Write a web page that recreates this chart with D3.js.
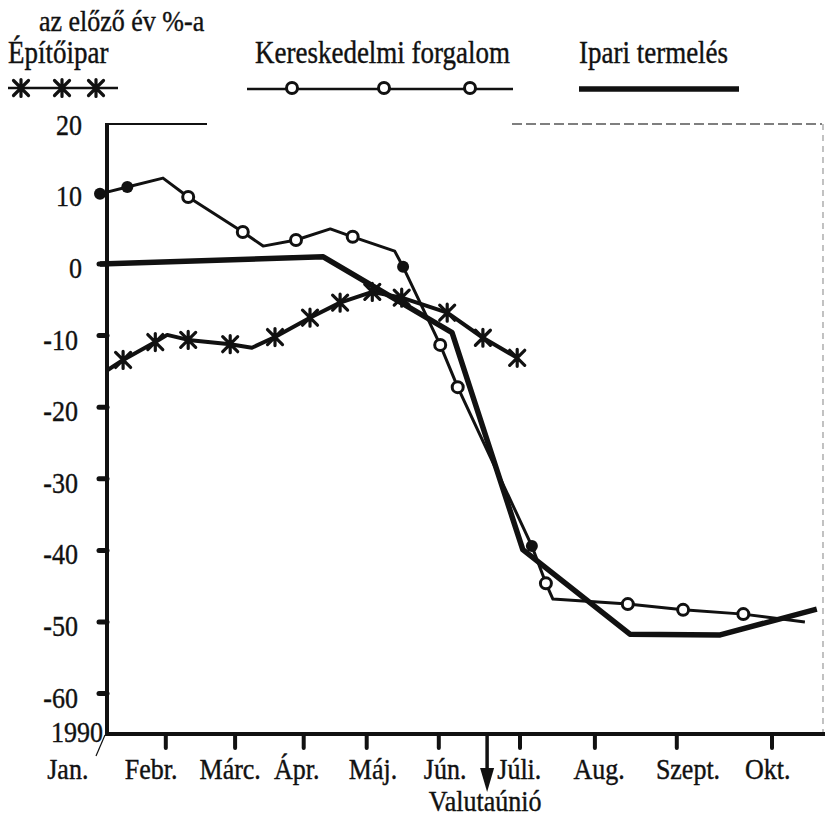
<!DOCTYPE html>
<html><head><meta charset="utf-8">
<script src="https://cdn.jsdelivr.net/npm/d3@7"></script>
<style>
body{margin:0;background:#fff}
text{font-family:"Liberation Serif","Times New Roman",serif;fill:#111;stroke:#111;stroke-width:0.35px}
</style>
</head><body><svg id="c" width="825" height="817"></svg>
<script>
// ---- data ----
const unitLabel = "az előző év %-a";
const seriesNames = ["Építőipar", "Kereskedelmi forgalom", "Ipari termelés"];
const months = ["Jan.", "Febr.", "Márc.", "Ápr.", "Máj.", "Jún.", "Júli.", "Aug.", "Szept.", "Okt."];
const monthLabelPos = [-0.56, 0.63, 1.76, 2.71, 3.80, 4.83, 5.89, 7.03, 8.30, 9.44];
const monthTickPos = [0.84, 1.83, 2.81, 3.71, 4.74, 5.90, 6.97, 8.14, 9.50];
const yTickLabels = [20, 10, 0, -10, -20, -30, -40, -50, -60];
const yTickMarks = [0, -10, -20, -30, -40, -50, -60];
const yearLabel = "1990";
const eventPos = 5.43;
const eventLabel = "Valutaúnió";

// Építőipar (crosses)
const epitoX = [0.01, 0.23, 0.69, 0.86, 1.16, 1.76, 2.07, 2.40, 2.90, 3.33, 3.79, 4.21, 4.86, 5.37, 5.86];
const epitoY = [-14.8, -13.4, -10.9, -9.9, -10.6, -11.2, -11.7, -10.2, -7.5, -5.4, -3.9, -4.7, -6.8, -10.3, -13.1];
const epitoMark = [0, 1, 1, 0, 1, 1, 0, 1, 1, 1, 1, 1, 1, 1, 1];

// Kereskedelmi forgalom (circles): mark 0 none, 1 open, 2 filled
const kerX = [-0.10, 0.29, 0.80, 1.16, 1.94, 2.23, 2.70, 3.19, 3.51, 4.11, 4.23, 4.76, 5.01, 6.07, 6.27, 6.37, 7.44, 8.23, 9.09, 9.97];
const kerY = [9.8, 10.75, 12.0, 9.35, 4.47, 2.5, 3.35, 4.9, 3.8, 1.8, -0.4, -11.3, -17.2, -39.4, -44.6, -46.8, -47.5, -48.3, -48.9, -50.0];
const kerMark = [2, 2, 0, 1, 1, 0, 1, 0, 1, 0, 2, 1, 1, 2, 1, 0, 1, 1, 1, 0];

// Ipari termelés (thick line)
const ipariX = [-0.10, 3.09, 4.93, 5.94, 7.47, 8.76, 10.14];
const ipariY = [0, 1.0, -9.6, -39.9, -51.7, -51.8, -48.2];

// ---- chart ----
const svg = d3.select("#c");
const ink = "#111";
const x = d3.scaleLinear().domain([0, 10]).range([107, 807]);
const y = d3.scaleLinear().domain([0, -60]).range([264, 693.6]);
const axisY = 734;

function txt(px, py, s, size, anchor) {
  svg.append("text")
    .attr("transform", `translate(${px},${py}) scale(1,1.15)`)
    .attr("font-size", size)
    .attr("text-anchor", anchor)
    .text(s);
}

// frame pieces
svg.append("line").attr("x1", 107).attr("x2", 207).attr("y1", 124).attr("y2", 124)
  .attr("stroke", ink).attr("stroke-width", 2);
svg.append("line").attr("x1", 512).attr("x2", 822).attr("y1", 124).attr("y2", 124)
  .attr("stroke", "#555").attr("stroke-width", 1.5).attr("stroke-dasharray", "10,4");
svg.append("line").attr("x1", 823).attr("x2", 823).attr("y1", 124).attr("y2", axisY)
  .attr("stroke", "#999").attr("stroke-width", 1.2).attr("stroke-dasharray", "6,5");

// y axis
svg.append("line").attr("x1", 107).attr("x2", 107).attr("y1", 123).attr("y2", axisY + 1)
  .attr("stroke", ink).attr("stroke-width", 4);
svg.selectAll(".yt").data(yTickMarks).join("line")
  .attr("x1", 99).attr("x2", 107)
  .attr("y1", d => y(d)).attr("y2", d => y(d))
  .attr("stroke", ink).attr("stroke-width", 5).attr("stroke-linecap", "round");
yTickLabels.forEach(v => txt(v < 0 ? 78 : 82, y(v) + 14, String(v), 26, "end"));
txt(103, 742, yearLabel, 26, "end");
svg.append("line").attr("x1", 105).attr("y1", 735).attr("x2", 96).attr("y2", 756)
  .attr("stroke", ink).attr("stroke-width", 1.2);

// x axis
svg.append("line").attr("x1", 105).attr("x2", 825).attr("y1", axisY).attr("y2", axisY)
  .attr("stroke", ink).attr("stroke-width", 4);
svg.selectAll(".xt").data(monthTickPos).join("line")
  .attr("x1", d => x(d)).attr("x2", d => x(d))
  .attr("y1", axisY).attr("y2", axisY + 14)
  .attr("stroke", ink).attr("stroke-width", 4).attr("stroke-linecap", "round");
months.forEach((m, i) => txt(x(monthLabelPos[i]), 779, m, 26, "middle"));

// event arrow
const ex = x(eventPos);
svg.append("line").attr("x1", ex).attr("x2", ex).attr("y1", axisY).attr("y2", 772)
  .attr("stroke", ink).attr("stroke-width", 3.5);
svg.append("path").attr("d", `M${ex - 7},768 L${ex + 7},768 L${ex},792 Z`).attr("fill", ink);
txt(ex - 2, 811, eventLabel, 26, "middle");

// lines
const mk = (xs, ys) => xs.map((v, i) => [v, ys[i]]);
const line = d3.line().x(d => x(d[0])).y(d => y(d[1]));

svg.append("path").datum(mk(ipariX, ipariY)).attr("d", line)
  .attr("fill", "none").attr("stroke", ink).attr("stroke-width", 5.5).attr("stroke-linejoin", "round");
svg.append("path").datum(mk(kerX, kerY)).attr("d", line)
  .attr("fill", "none").attr("stroke", ink).attr("stroke-width", 3).attr("stroke-linejoin", "round");
svg.append("path").datum(mk(epitoX, epitoY)).attr("d", line)
  .attr("fill", "none").attr("stroke", ink).attr("stroke-width", 4).attr("stroke-linejoin", "round");

function crossPath(cx, cy, s) {
  return `M${cx - s},${cy - s}L${cx + s},${cy + s}M${cx - s},${cy + s}L${cx + s},${cy - s}M${cx},${cy - s - 1}L${cx},${cy + s + 1}`;
}
function drawCross(cx, cy) {
  svg.append("path").attr("d", crossPath(cx, cy, 7.5))
    .attr("stroke", ink).attr("stroke-width", 3.2).attr("fill", "none").attr("stroke-linecap", "round");
}
function drawCircle(cx, cy, kind) {
  if (kind === 2) {
    svg.append("circle").attr("cx", cx).attr("cy", cy).attr("r", 6).attr("fill", ink);
  } else {
    svg.append("circle").attr("cx", cx).attr("cy", cy).attr("r", 5.5)
      .attr("fill", "#fff").attr("stroke", ink).attr("stroke-width", 3);
  }
}
epitoX.forEach((v, i) => { if (epitoMark[i]) drawCross(x(v), y(epitoY[i])); });
kerX.forEach((v, i) => { if (kerMark[i]) drawCircle(x(v), y(kerY[i]), kerMark[i]); });

// legend
txt(39, 31, unitLabel, 26, "start");
txt(8, 63, seriesNames[0], 27, "start");
txt(255, 63, seriesNames[1], 27, "start");
txt(579, 63, seriesNames[2], 27, "start");
svg.append("line").attr("x1", 8).attr("x2", 118).attr("y1", 88).attr("y2", 88)
  .attr("stroke", ink).attr("stroke-width", 2.5);
[21, 62, 96].forEach(cx => drawCross(cx, 88));
svg.append("line").attr("x1", 247).attr("x2", 513).attr("y1", 89).attr("y2", 89)
  .attr("stroke", ink).attr("stroke-width", 2.5);
[292, 384, 470].forEach(cx => drawCircle(cx, 88, 1));
svg.append("line").attr("x1", 579).attr("x2", 739).attr("y1", 89).attr("y2", 89)
  .attr("stroke", ink).attr("stroke-width", 5.5);
</script>
</body></html>
